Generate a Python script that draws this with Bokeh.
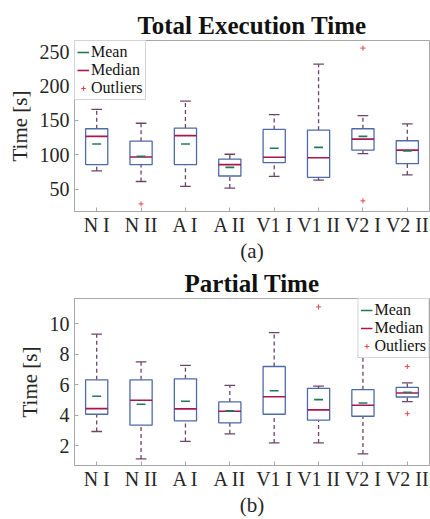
from bokeh.plotting import figure
from bokeh.layouts import column
from bokeh.models import (Range1d, FixedTicker, Legend, LegendItem,
                          ColumnDataSource)
from bokeh.embed import file_html
from bokeh.resources import INLINE

categories = ["N I", "N II", "A I", "A II", "V1 I", "V1 II", "V2 I", "V2 II"]

# (a) Total execution time [s]
total_lower = [77, 61.5, 54.5, 52, 69, 63.5, 102, 71]
total_q1 = [86, 86, 86, 69.5, 89, 67.5, 107, 87.3]
total_median = [127, 97, 128, 86, 96.7, 96, 123, 107]
total_mean = [116, 98, 116, 82, 109.7, 111, 127, 105.7]
total_q3 = [138, 120, 139, 94, 137, 136, 138, 120.6]
total_upper = [166, 146, 178, 101, 158.5, 231.6, 157, 145]
total_out_cat = ["N II", "V2 I", "V2 I"]
total_out_val = [29, 255, 33.5]
total_yticks = [50, 100, 150, 200, 250]

# (b) Partial time [s]
part_lower = [2.95, 1.15, 2.3, 2.8, 2.2, 2.2, 1.48, 4.91]
part_q1 = [4.08, 3.37, 3.65, 3.52, 4.08, 3.69, 3.95, 5.21]
part_median = [4.45, 5.0, 4.43, 4.28, 5.23, 4.37, 4.67, 5.47]
part_mean = [5.26, 4.74, 4.93, 4.3, 5.62, 5.04, 4.82, 5.52]
part_q3 = [6.34, 6.34, 6.4, 4.89, 7.21, 5.78, 5.69, 5.84]
part_upper = [9.33, 7.51, 7.28, 5.97, 9.43, 5.93, 7.93, 6.14]
part_out_cat = ["V1 II", "V2 II", "V2 II"]
part_out_val = [11.12, 7.21, 4.12]
part_yticks = [2, 4, 6, 8, 10]

FONT = "Liberation Serif"
BOX_C = "#4f6aa6"
MED_C = "#a8174f"
MEAN_C = "#237a52"
WHISK_C = "#6e4466"
OUT_C = "#e8464e"
AXIS_C = "#a8a8a8"
TXT_C = "#262626"


def make(title, caption, lower, q1, med, mean, q3, upper, oc, ov, yticks,
         yr, height, border_left, border_top, border_bottom, legend_loc):
    xs = list(range(1, len(categories) + 1))
    pos = {c: i + 1 for i, c in enumerate(categories)}
    p = figure(width=430, height=height, output_backend="svg", toolbar_location=None,
               x_range=Range1d(0.5, 8.5), y_range=Range1d(*yr),
               min_border_left=border_left, min_border_right=1,
               min_border_top=border_top, min_border_bottom=border_bottom,
               title=title)
    p.title.text_font = FONT
    p.title.text_font_size = "25px"
    p.title.text_font_style = "bold"
    p.title.align = "center"
    p.title.text_color = "#111111"
    p.title.standoff = 4
    p.grid.visible = False
    p.outline_line_color = AXIS_C
    p.background_fill_color = "white"
    p.border_fill_color = "white"

    src = ColumnDataSource(dict(x=xs, lower=lower, q1=q1, med=med, mean=mean,
                                q3=q3, upper=upper,
                                x0=[x - 0.25 for x in xs], x1=[x + 0.25 for x in xs],
                                c0=[x - 0.12 for x in xs], c1=[x + 0.12 for x in xs],
                                m0=[x - 0.1 for x in xs], m1=[x + 0.1 for x in xs]))
    # whiskers
    p.segment(x0="x", y0="q3", x1="x", y1="upper", source=src, line_color=WHISK_C,
              line_width=1.3, line_dash="4 3")
    p.segment(x0="x", y0="lower", x1="x", y1="q1", source=src, line_color=WHISK_C,
              line_width=1.3, line_dash="4 3")
    p.segment(x0="c0", y0="upper", x1="c1", y1="upper", source=src, line_color=WHISK_C,
              line_width=1.3)
    p.segment(x0="c0", y0="lower", x1="c1", y1="lower", source=src, line_color=WHISK_C,
              line_width=1.3)
    # boxes
    p.quad(left="x0", right="x1", bottom="q1", top="q3", source=src,
           fill_color="white", line_color=BOX_C, line_width=1.3)
    r_med = p.segment(x0="x0", y0="med", x1="x1", y1="med", source=src,
                      line_color=MED_C, line_width=1.6)
    r_mean = p.segment(x0="m0", y0="mean", x1="m1", y1="mean", source=src,
                       line_color=MEAN_C, line_width=1.6)
    r_out = p.scatter([pos[c] for c in oc], ov, marker="cross", size=5,
                      line_color=OUT_C, line_width=1)

    # axes
    xa = p.xaxis[0]
    xa.ticker = FixedTicker(ticks=xs)
    xa.major_label_overrides = {x: c for x, c in zip(xs, categories)}
    ya = p.yaxis[0]
    ya.ticker = FixedTicker(ticks=yticks)
    ya.axis_label = "Time [s]"
    xa.axis_label = caption
    for ax in (xa, ya):
        ax.axis_line_color = AXIS_C
        ax.major_tick_line_color = AXIS_C
        ax.major_tick_in = 4
        ax.major_tick_out = 0
        ax.minor_tick_line_color = None
        ax.major_label_text_font = FONT
        ax.major_label_text_font_size = "20px"
        ax.major_label_text_color = TXT_C
        ax.axis_label_text_font = FONT
        ax.axis_label_text_font_size = "21px"
        ax.axis_label_text_font_style = "normal"
        ax.axis_label_text_color = TXT_C
    xa.major_label_standoff = 2
    xa.axis_label_standoff = 0
    ya.major_label_standoff = 5
    ya.axis_label_standoff = 5

    legend = Legend(items=[LegendItem(label="Mean", renderers=[r_mean]),
                           LegendItem(label="Median", renderers=[r_med]),
                           LegendItem(label="Outliers", renderers=[r_out])],
                    location=legend_loc, label_text_font=FONT,
                    label_text_font_size="16px", label_text_color="#111111",
                    glyph_width=12, glyph_height=16, label_height=16,
                    label_standoff=2, spacing=0, padding=2, margin=0,
                    border_line_color=AXIS_C, background_fill_alpha=1.0)
    p.add_layout(legend)
    return p


p1 = make("Total Execution Time", "(a)", total_lower, total_q1, total_median,
          total_mean, total_q3, total_upper, total_out_cat, total_out_val,
          total_yticks, (18, 266), 265, 74, 40, 50, "top_left")
p2 = make("Partial Time", "(b)", part_lower, part_q1, part_median, part_mean,
          part_q3, part_upper, part_out_cat, part_out_val, part_yticks,
          (0.72, 11.67), 254, 63, 31, 50, "top_right")

layout = column(p1, p2, spacing=0)
open("out.html", "w").write(file_html(layout, INLINE))
